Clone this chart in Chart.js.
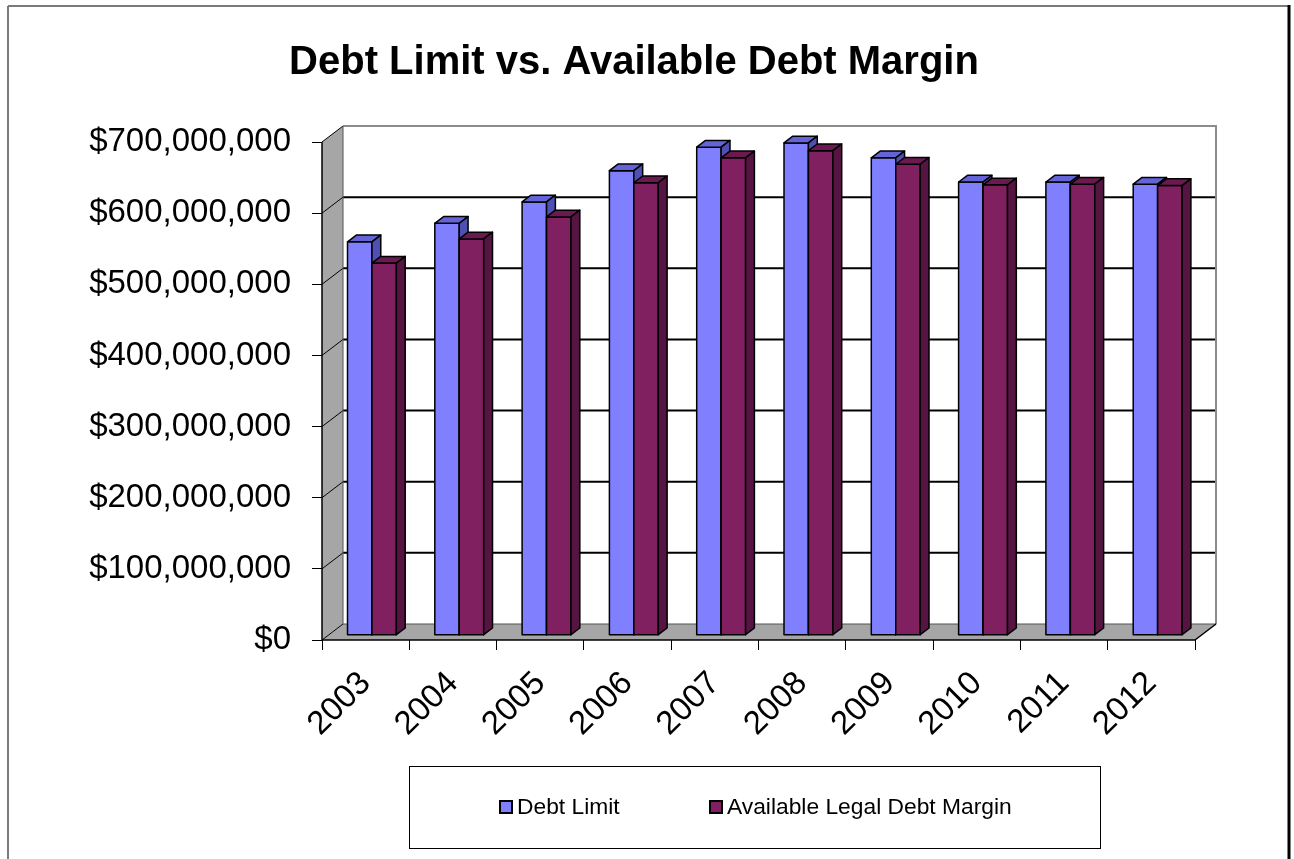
<!DOCTYPE html>
<html>
<head>
<meta charset="utf-8">
<title>Debt Limit vs. Available Debt Margin</title>
<script src="https://cdn.jsdelivr.net/npm/chart.js@4.4.1/dist/chart.umd.min.js"></script>
<style>
  html, body { margin: 0; padding: 0; background: #fff; }
  canvas { display: block; }
</style>
</head>
<body>
<canvas id="debtChart" width="1294" height="859"></canvas>
<script>
// fiscal years and the two series (dollars)
const years = ['2003', '2004', '2005', '2006', '2007', '2008', '2009', '2010', '2011', '2012'];
const debtLimit = [553000000, 579000000, 609000000, 653000000, 686000000, 692000000, 671000000, 637000000, 637000000, 634000000];
const legalDebtMargin = [523000000, 557000000, 588000000, 636000000, 671000000, 681000000, 662000000, 633000000, 634000000, 632000000];
const seriesNames = ['Debt Limit', 'Available Legal Debt Margin'];
const yMax = 700000000;
const yStep = 100000000;

// excel-ish 3d look: front / top / side shades per series
const faceColors = ['#8080ff', '#802060'];
const topColors = ['#6464d8', '#6a1a50'];
const sideColors = ['#5050b4', '#561442'];

const FONT = '"Liberation Sans", Arial, sans-serif';
const depth = { dx: 21, dy: -16 };   // back wall offset
const barFront = 0.3, barBack = 0.72; // where the columns sit inside the depth

function poly(ctx, pts) {
  ctx.beginPath();
  ctx.moveTo(pts[0][0], pts[0][1]);
  for (let i = 1; i < pts.length; i++) ctx.lineTo(pts[i][0], pts[i][1]);
  ctx.closePath();
}

function line(ctx, x0, y0, x1, y1) {
  ctx.beginPath();
  ctx.moveTo(x0, y0);
  ctx.lineTo(x1, y1);
  ctx.stroke();
}

// outer frame of the chart object
const framePlugin = {
  id: 'frame',
  beforeDraw(chart) {
    const ctx = chart.ctx;
    ctx.save();
    ctx.fillStyle = '#fff';
    ctx.fillRect(0, 0, chart.width, chart.height);
    ctx.strokeStyle = '#7a7a7a';
    ctx.lineWidth = 2;
    line(ctx, 8, 6, 1289, 6);
    line(ctx, 8, 6, 8, chart.height);
    ctx.strokeStyle = '#000';
    ctx.lineWidth = 3;
    line(ctx, 1289, 5, 1289, chart.height);
    ctx.restore();
  }
};

// walls, floor and 3d columns
const box3dPlugin = {
  id: 'box3d',
  beforeDatasetsDraw(chart) {
    const { ctx, chartArea: a, scales } = chart;
    const y = scales.y;
    const { dx, dy } = depth;
    ctx.save();

    // side wall + floor
    ctx.fillStyle = '#a6a6a6';
    poly(ctx, [[a.left, a.top], [a.left + dx, a.top + dy], [a.left + dx, a.bottom + dy], [a.left, a.bottom]]);
    ctx.fill();
    poly(ctx, [[a.left, a.bottom], [a.left + dx, a.bottom + dy], [a.right + dx, a.bottom + dy], [a.right, a.bottom]]);
    ctx.fill();

    // gridlines on back wall, joined to the axis ticks across the side wall
    ctx.strokeStyle = '#000';
    y.ticks.forEach(t => {
      const py = y.getPixelForValue(t.value);
      ctx.lineWidth = 1;
      line(ctx, a.left, py, a.left + dx, py + dy);
      if (t.value > 0 && t.value < yMax) {
        ctx.lineWidth = 2;
        line(ctx, a.left + dx, py + dy, a.right + dx, py + dy);
      }
    });

    // back wall outline
    ctx.strokeStyle = '#8c8c8c';
    ctx.lineWidth = 2;
    ctx.beginPath();
    ctx.moveTo(a.left + dx, a.top + dy);
    ctx.lineTo(a.right + dx, a.top + dy);
    ctx.lineTo(a.right + dx, a.bottom + dy);
    ctx.stroke();
    ctx.strokeStyle = '#555';
    ctx.lineWidth = 1;
    line(ctx, a.left + dx, a.top + dy, a.left + dx, a.bottom + dy);
    line(ctx, a.left + dx, a.bottom + dy, a.right + dx, a.bottom + dy);

    // front edges
    ctx.strokeStyle = '#000';
    ctx.lineWidth = 1.5;
    line(ctx, a.left, a.top, a.left, a.bottom);
    line(ctx, a.left, a.bottom, a.right, a.bottom);
    line(ctx, a.right, a.bottom, a.right + dx, a.bottom + dy);

    // columns, left to right, first series in front of its neighbour's side
    const fx = dx * barFront, fy = dy * barFront;
    const bx = dx * (barBack - barFront), by = dy * (barBack - barFront);
    ctx.lineJoin = 'round';
    ctx.lineWidth = 1.5;
    ctx.strokeStyle = '#000';
    for (let j = 0; j < years.length; j++) {
      chart.data.datasets.forEach((ds, i) => {
        const el = chart.getDatasetMeta(i).data[j];
        const p = el.getProps(['x', 'y', 'base', 'width'], true);
        const x0 = p.x - p.width / 2 + fx, x1 = p.x + p.width / 2 + fx;
        const yt = p.y + fy, yb = p.base + fy;
        ctx.fillStyle = faceColors[i];
        poly(ctx, [[x0, yt], [x1, yt], [x1, yb], [x0, yb]]);
        ctx.fill(); ctx.stroke();
        ctx.fillStyle = topColors[i];
        poly(ctx, [[x0, yt], [x0 + bx, yt + by], [x1 + bx, yt + by], [x1, yt]]);
        ctx.fill(); ctx.stroke();
        ctx.fillStyle = sideColors[i];
        poly(ctx, [[x1, yt], [x1 + bx, yt + by], [x1 + bx, yb + by], [x1, yb]]);
        ctx.fill(); ctx.stroke();
      });
    }
    ctx.restore();
    return false;
  }
};

// boxed legend under the axis labels
const legendBoxPlugin = {
  id: 'legendBox',
  afterDraw(chart) {
    const ctx = chart.ctx;
    ctx.save();
    ctx.strokeStyle = '#000';
    ctx.lineWidth = 1;
    ctx.strokeRect(409.5, 766.5, 691, 82);
    const itemX = [500, 710];
    const cy = 807;
    ctx.font = '22.8px ' + FONT;
    ctx.textBaseline = 'middle';
    ctx.fillStyle = '#000';
    chart.data.datasets.forEach((ds, i) => {
      ctx.fillStyle = faceColors[i];
      ctx.fillRect(itemX[i], cy - 6, 12, 12);
      ctx.strokeStyle = '#000';
      ctx.lineWidth = 2;
      ctx.strokeRect(itemX[i], cy - 6, 12, 12);
      ctx.fillStyle = '#000';
      ctx.fillText(ds.label, itemX[i] + 17, cy + 1);
    });
    ctx.restore();
  }
};

new Chart(document.getElementById('debtChart'), {
  type: 'bar',
  data: {
    labels: years,
    datasets: [
      { label: seriesNames[0], data: debtLimit, backgroundColor: faceColors[0] },
      { label: seriesNames[1], data: legalDebtMargin, backgroundColor: faceColors[1] }
    ]
  },
  options: {
    responsive: false,
    animation: false,
    events: [],
    categoryPercentage: 0.56,
    barPercentage: 1,
    layout: { padding: { left: 73, right: 99, top: 0, bottom: 0 } },
    plugins: {
      legend: { display: false },
      tooltip: { enabled: false },
      title: {
        display: true,
        text: 'Debt Limit vs. Available Debt Margin',
        color: '#000',
        font: { family: FONT, size: 40, weight: 'bold' },
        padding: { top: 39, bottom: 55 }
      }
    },
    scales: {
      x: {
        grid: { drawOnChartArea: false, tickLength: 10, color: '#000', lineWidth: 1 },
        border: { display: false },
        ticks: {
          color: '#000',
          font: { family: FONT, size: 33 },
          minRotation: 45,
          maxRotation: 45,
          autoSkip: false,
          padding: 14
        },
        afterFit(scale) { scale.height = 219; }
      },
      y: {
        min: 0,
        max: yMax,
        grid: { drawOnChartArea: false, tickLength: 10, color: '#000', lineWidth: 1 },
        border: { display: false },
        ticks: {
          stepSize: yStep,
          color: '#000',
          font: { family: FONT, size: 33 },
          padding: 21,
          callback: v => '$' + v.toLocaleString('en-US')
        },
        afterFit(scale) { scale.width = 249; }
      }
    }
  },
  plugins: [framePlugin, box3dPlugin, legendBoxPlugin]
});
</script>
</body>
</html>
